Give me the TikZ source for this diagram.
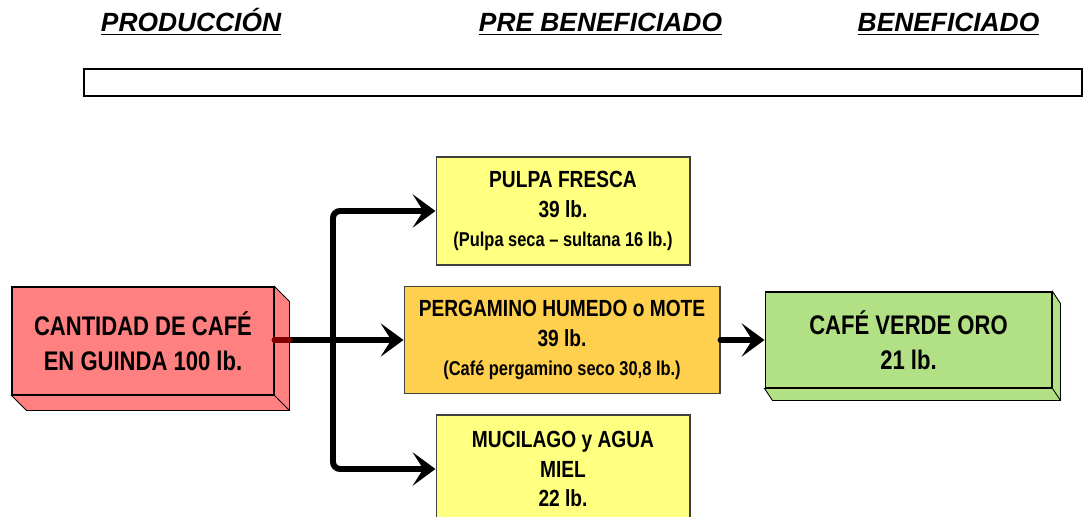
\documentclass[tikz,border=0pt]{standalone}
\usepackage{fontspec}
\setmainfont{Liberation Sans}
\newfontfamily\narrowsans[FakeStretch=0.82]{Liberation Sans}
\usetikzlibrary{arrows.meta, positioning}

\definecolor{guinda}{HTML}{FF8080}
\definecolor{pulpa}{HTML}{FFFF80}
\definecolor{mote}{HTML}{FFD04E}
\definecolor{oro}{HTML}{B2E084}
\definecolor{vino}{HTML}{800000}

\begin{document}
\begin{tikzpicture}[x=0.02cm, y=-0.02cm, > = {Stealth[length=13pt, width=19pt, inset=6pt]},
    box/.style = {draw=black!75, line width=0.6pt, inner sep=0pt, align=center,
                  font=\narrowsans\bfseries\fontsize{13.3}{17}\selectfont},
    bigbox/.style = {box, draw=black, font=\narrowsans\bfseries\fontsize{15.3}{20}\selectfont},
    flow/.style = {->, line width=3.4pt, rounded corners=4pt},
    stage/.style = {anchor=base, font=\bfseries\itshape\fontsize{15}{18}\selectfont}]
    \useasboundingbox (0,0) rectangle (1083,517);

    % etapas
    \node[stage]	(produccion)	at (191,32)		{\underline{PRODUCCIÓN}};
    \node[stage]	(prebenef)		at (600.5,32)	{\underline{PRE BENEFICIADO}};
    \node[stage]	(benef)			at (948.5,32)	{\underline{BENEFICIADO}};
    \node[draw, line width=1.1pt, minimum width=19.96cm, minimum height=0.54cm] (band) at (583,82.5) {};

    % cajas
    \node[bigbox, fill=guinda, minimum width=5.24cm, minimum height=2.16cm]	(guinda) at (143,341)
        {CANTIDAD DE CAFÉ\\EN GUINDA 100 lb.};
    \node[box, fill=pulpa, minimum width=5.08cm, minimum height=2.16cm]		(pulpa) at (563,211)
        {PULPA FRESCA\\39 lb.\\{\fontsize{11.4}{14}\selectfont (Pulpa seca – sultana 16 lb.)}};
    \node[box, fill=mote, minimum width=6.32cm, minimum height=2.14cm]		(mote) at (562,340)
        {PERGAMINO HUMEDO o MOTE\\39 lb.\\{\fontsize{11.4}{14}\selectfont (Café pergamino seco 30,8 lb.)}};
    \node[box, fill=pulpa, minimum width=5.08cm, minimum height=2.16cm]		(mucilago) at (563,469)
        {MUCILAGO y AGUA\\MIEL\\22 lb.};
    \node[bigbox, fill=oro, minimum width=5.74cm, minimum height=1.92cm]		(oro) at (908.5,340)
        {CAFÉ VERDE ORO\\21 lb.};

    % relieve
    \filldraw[fill=guinda, draw=black, line width=0.5pt] (guinda.north east) -- ++(15,15)
        -- ([shift={(15,15)}]guinda.south east) -- ([shift={(15,15)}]guinda.south west)
        -- (guinda.south west) -- (guinda.south east) -- cycle;
    \draw[line width=0.5pt] (guinda.south east) -- ++(15,15);
    \filldraw[fill=oro, draw=black, line width=0.5pt] (oro.north east) -- ++(8,12)
        -- ([shift={(8,12)}]oro.south east) -- ([shift={(8,12)}]oro.south west)
        -- (oro.south west) -- (oro.south east) -- cycle;
    \draw[line width=0.5pt] (oro.south east) -- ++(8,12);

    % flujos
    \coordinate (split) at (333,340);
    \draw[flow]	(guinda.east |- split)	--	(mote.west);
    \draw[vino, line width=3.4pt, line cap=round] (guinda.east |- split) -- ++(15,0);
    \draw[flow]	(split)	|-	(pulpa.west);
    \draw[flow]	(split)	|-	(mucilago.west);
    \draw[flow, line cap=round]	(mote.east)	--	(oro.west);
\end{tikzpicture}
\end{document}
